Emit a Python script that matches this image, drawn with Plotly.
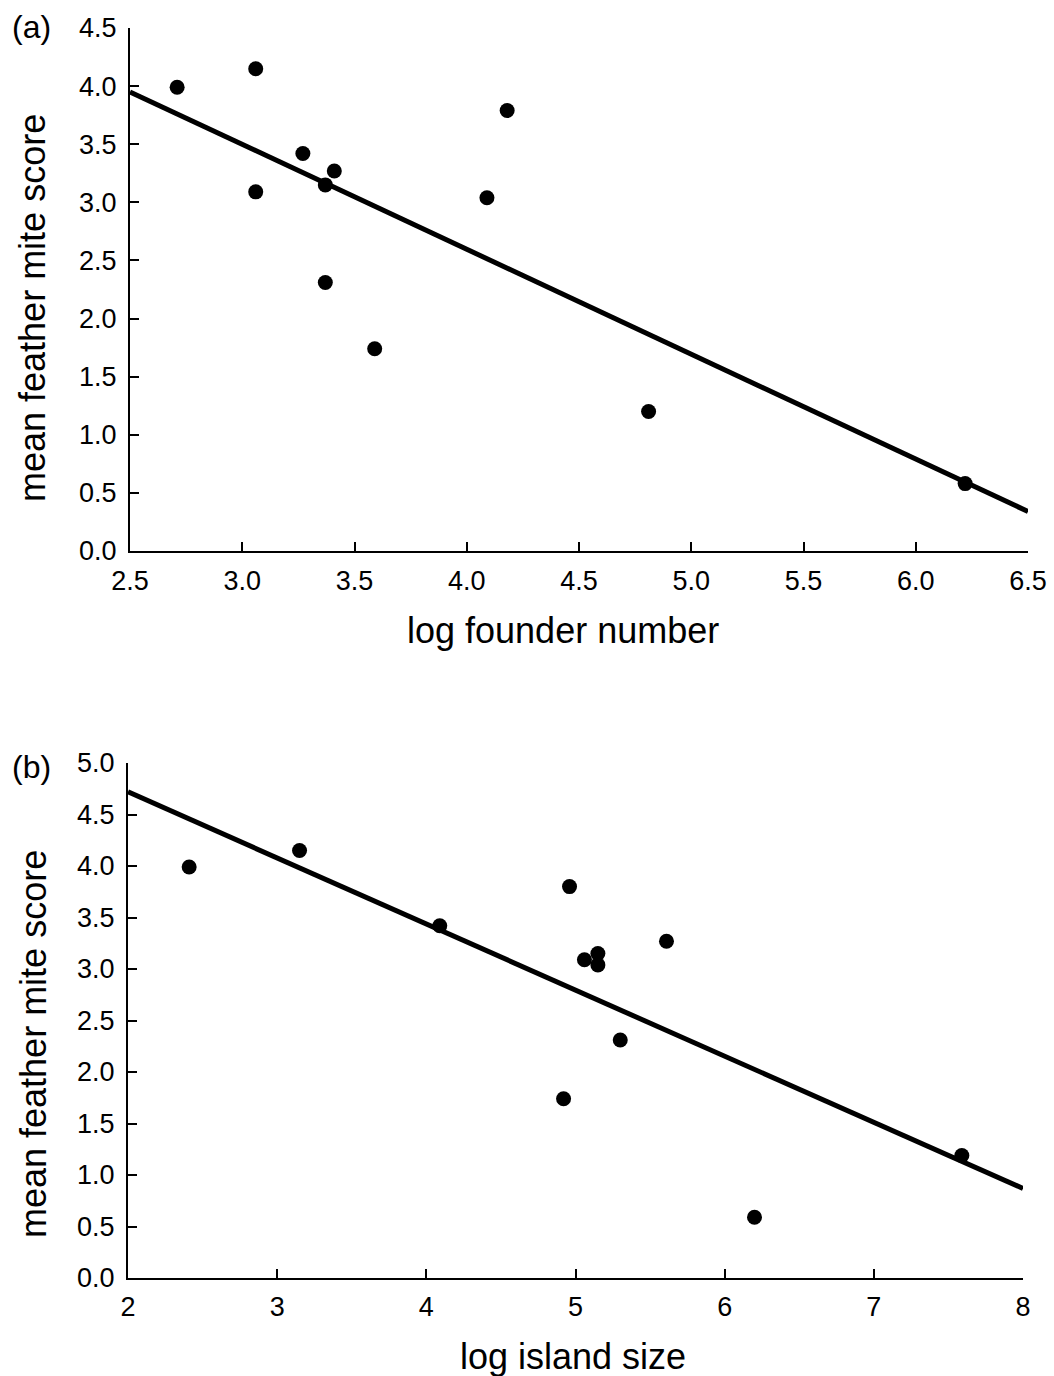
import plotly.graph_objects as go

# Panel (a): log founder number vs mean feather mite score
founder_x = [2.71, 3.06, 3.06, 3.27, 3.37, 3.41, 3.37, 3.59, 4.09, 4.18, 4.81, 6.22]
founder_y = [3.99, 4.15, 3.09, 3.42, 3.15, 3.27, 2.31, 1.74, 3.04, 3.79, 1.20, 0.58]
founder_fit_x = [2.5, 6.5]
founder_fit_y = [3.95, 0.34]

# Panel (b): log island size vs mean feather mite score
island_x = [2.41, 3.15, 4.09, 4.96, 5.06, 5.15, 5.15, 5.61, 5.30, 4.92, 6.20, 7.59]
island_y = [3.99, 4.15, 3.42, 3.80, 3.09, 3.15, 3.04, 3.27, 2.31, 1.74, 0.59, 1.19]
island_fit_x = [2.0, 8.0]
island_fit_y = [4.72, 0.87]

a_xticks = [2.5, 3.0, 3.5, 4.0, 4.5, 5.0, 5.5, 6.0, 6.5]
a_yticks = [0.0, 0.5, 1.0, 1.5, 2.0, 2.5, 3.0, 3.5, 4.0, 4.5]
b_xticks = [2, 3, 4, 5, 6, 7, 8]
b_yticks = [0.0, 0.5, 1.0, 1.5, 2.0, 2.5, 3.0, 3.5, 4.0, 4.5, 5.0]

W, H = 1054, 1376
FONT = "Liberation Sans, Arial, Helvetica, sans-serif"
TICK_SIZE = 27
TITLE_SIZE = 36

fig = go.Figure()

for fx, fy, px, py, xa_id, ya_id in [
    (founder_fit_x, founder_fit_y, founder_x, founder_y, "x", "y"),
    (island_fit_x, island_fit_y, island_x, island_y, "x2", "y2"),
]:
    fig.add_trace(go.Scatter(x=fx, y=fy, mode="lines",
                             line=dict(color="black", width=5), xaxis=xa_id, yaxis=ya_id,
                             showlegend=False, cliponaxis=False))
    fig.add_trace(go.Scatter(x=px, y=py, mode="markers",
                             marker=dict(color="black", size=15, line=dict(width=0)),
                             xaxis=xa_id, yaxis=ya_id,
                             showlegend=False, cliponaxis=False))

def axis(domain, anchor, rng, ticks, fmt, standoff):
    return dict(domain=domain, anchor=anchor, range=rng, tickvals=ticks,
                tickformat=fmt, showgrid=False, zeroline=False, showline=True,
                linecolor="black", linewidth=2, ticks="inside", ticklen=9,
                tickwidth=2, tickcolor="black", automargin=False,
                ticklabelstandoff=standoff,
                tickfont=dict(family=FONT, size=TICK_SIZE, color="black"))

def label(text, x, y, size, angle=0):
    return dict(text=text, x=x / W, y=1 - y / H, xref="paper", yref="paper",
                xanchor="center", yanchor="middle", showarrow=False, textangle=angle,
                font=dict(family=FONT, size=size, color="black"))

fig.update_layout(
    template="none",
    width=W, height=H,
    margin=dict(l=0, r=0, t=0, b=0),
    paper_bgcolor="white", plot_bgcolor="white",
    font=dict(family=FONT, color="black"),
    showlegend=False,
    xaxis=axis([130 / W, 1028 / W], "y", [2.5, 6.5], a_xticks, ".1f", 5),
    yaxis=axis([1 - 551 / H, 1 - 28 / H], "x", [0, 4.5], a_yticks, ".1f", 6),
    xaxis2=axis([128 / W, 1023 / W], "y2", [2, 8], b_xticks, "d", 4),
    yaxis2=axis([1 - 1278 / H, 1 - 763 / H], "x2", [0, 5.0], b_yticks, ".1f", 6),
    annotations=[
        label("(a)", 31, 27, 32),
        label("(b)", 31, 767, 32),
        label("log founder number", 563, 630, TITLE_SIZE),
        label("log island size", 573, 1356, TITLE_SIZE),
        label("mean feather mite score", 33, 308, TITLE_SIZE, -90),
        label("mean feather mite score", 33, 1044, TITLE_SIZE, -90),
    ],
)

fig.write_html("out.html")
